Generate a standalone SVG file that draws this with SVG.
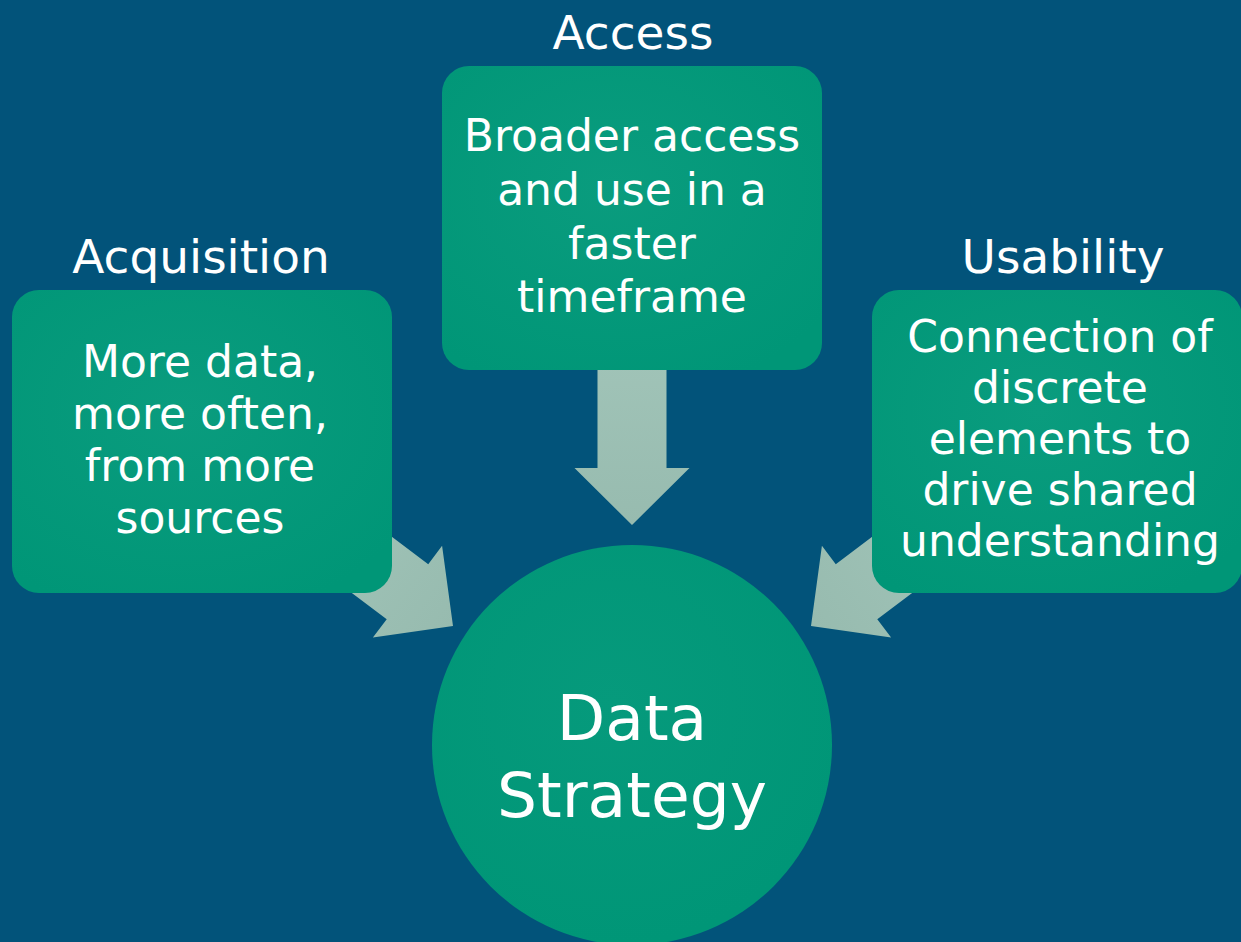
<svg xmlns="http://www.w3.org/2000/svg" width="1241" height="942" viewBox="0 0 1241 942">
  <defs>
    <style>
      .box { fill: url(#gbox); }
      .lbl { font-family: "DejaVu Sans", "Liberation Sans", sans-serif; font-size: 47px; fill: #ffffff; text-anchor: middle; }
      .txt { font-family: "DejaVu Sans", "Liberation Sans", sans-serif; font-size: 44px; fill: #ffffff; text-anchor: middle; }
      .big { font-family: "DejaVu Sans", "Liberation Sans", sans-serif; font-size: 63px; fill: #ffffff; text-anchor: middle; }
      .arrow { fill: url(#garr); }
    </style>
    <radialGradient id="gbox" cx="0.45" cy="0.4" r="0.7">
      <stop offset="0" stop-color="#0A9C7E"/>
      <stop offset="1" stop-color="#009677"/>
    </radialGradient>
    <radialGradient id="gcirc" cx="0.45" cy="0.4" r="0.6">
      <stop offset="0" stop-color="#069A7C"/>
      <stop offset="1" stop-color="#009677"/>
    </radialGradient>
    <linearGradient id="garr" x1="0" y1="0" x2="0" y2="1">
      <stop offset="0" stop-color="#A2C5B9"/>
      <stop offset="1" stop-color="#97BBAF"/>
    </linearGradient>
    <path id="arr" d="M -34.5 -200 L 34.5 -200 L 34.5 -57 L 57.5 -57 L 0 0 L -57.5 -57 L -34.5 -57 Z"/>
  </defs>
  <rect x="0" y="0" width="1241" height="942" fill="#02537A"/>

  <g id="connectors">
    <use href="#arr" class="arrow" transform="translate(632,525)"/>
    <use href="#arr" class="arrow" transform="translate(453,626) rotate(-53)"/>
    <use href="#arr" class="arrow" transform="translate(811,626) rotate(53)"/>
  </g>

  <g id="access">
    <text class="lbl" x="633" y="49">Access</text>
    <rect class="box" x="442" y="66" width="380" height="304" rx="27" ry="27"/>
    <text class="txt" x="632" y="151">Broader access</text>
    <text class="txt" x="632" y="205">and use in a</text>
    <text class="txt" x="632" y="259">faster</text>
    <text class="txt" x="632" y="312">timeframe</text>
  </g>

  <g id="acquisition">
    <text class="lbl" x="201" y="273">Acquisition</text>
    <rect class="box" x="12" y="290" width="380" height="303" rx="27" ry="27"/>
    <text class="txt" x="200" y="377">More data,</text>
    <text class="txt" x="200" y="429">more often,</text>
    <text class="txt" x="200" y="481">from more</text>
    <text class="txt" x="200" y="533">sources</text>
  </g>

  <g id="usability">
    <text class="lbl" x="1063" y="273">Usability</text>
    <rect class="box" x="872" y="290" width="370" height="303" rx="27" ry="27"/>
    <text class="txt" x="1060" y="352">Connection of</text>
    <text class="txt" x="1060" y="403">discrete</text>
    <text class="txt" x="1060" y="454">elements to</text>
    <text class="txt" x="1060" y="505">drive shared</text>
    <text class="txt" x="1060" y="556">understanding</text>
  </g>

  <g id="data-strategy">
    <circle cx="632" cy="745" r="200" fill="url(#gcirc)"/>
    <text class="big" x="632" y="740">Data</text>
    <text class="big" x="632" y="817">Strategy</text>
  </g>
</svg>
